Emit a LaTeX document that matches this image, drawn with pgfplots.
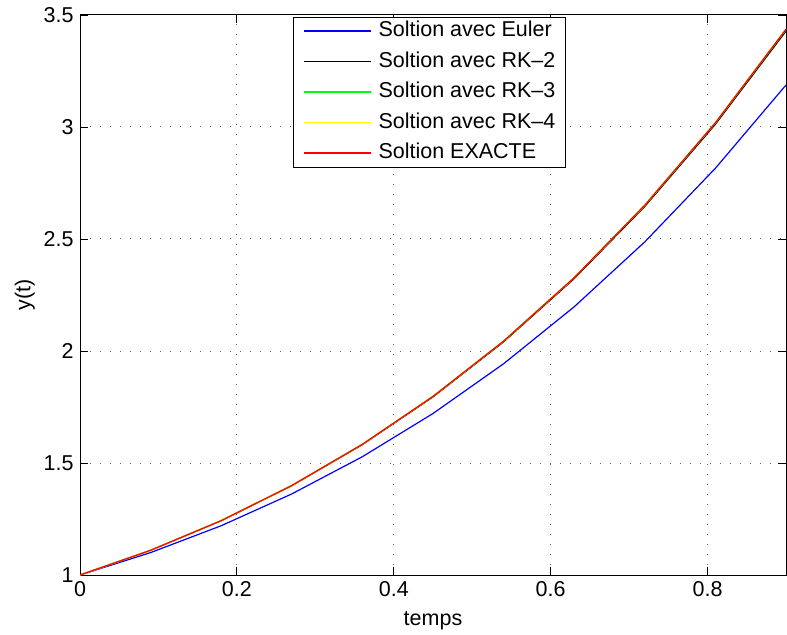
\documentclass[border=0pt]{standalone}
\usepackage{pgfplots}
\pgfplotsset{compat=1.18}
\usepackage{fontspec}
\setmainfont{Liberation Sans}
\definecolor{mblue}{rgb}{0,0,1}
\definecolor{mgreen}{rgb}{0,1,0}
\definecolor{myellow}{rgb}{1,1,0}
\definecolor{mred}{rgb}{1,0,0}
\begin{document}
\begin{tikzpicture}[font=\fontsize{21.5}{25}\selectfont]
\begin{axis}[
  scale only axis, width=706pt, height=560pt,
  xmin=0, xmax=0.9, ymin=1, ymax=3.5,
  xtick={0,0.2,0.4,0.6,0.8}, ytick={1,1.5,2,2.5,3,3.5},
  /pgf/number format/assume math mode=true,
  tick align=inside, major tick length=8pt,
  tick style={black, line width=0.8pt},
  axis line style={line width=1pt},
  xtick pos=both, ytick pos=both,
  grid=major, grid style={black!60, line width=1pt, dash pattern=on 1pt off 9pt},
  xticklabel style={yshift=-3pt},
  yticklabel style={xshift=-3pt},
  xlabel={temps}, ylabel={y(t)},
  xlabel style={at={(axis description cs:0.5,-0.082)}, anchor=center},
  ylabel style={at={(axis description cs:-0.078,0.5)}, anchor=center},
  legend cell align=left,
  legend image code/.code={\draw[#1, line width=1.3pt] (0pt,0pt) -- (67pt,0pt);},
  legend style={at={(rel axis cs:0.3017,0.9964)}, anchor=north west,
    inner xsep=10pt, inner ysep=4pt, row sep=11pt, column sep=7pt,
    nodes={inner sep=0pt, text height=15.5pt, text depth=4pt}},
]
\addplot[color=mblue, line width=1.2pt] coordinates {(0,1) (0.09,1.1) (0.18,1.22) (0.27,1.362) (0.36,1.5282) (0.45,1.72102) (0.54,1.943122) (0.63,2.197434) (0.72,2.487178) (0.81,2.815895) (0.9,3.187485)};
\addlegendentry{Soltion avec Euler}
\addplot[color=black, line width=1.2pt] coordinates {(0,1) (0.09,1.11) (0.18,1.24205) (0.27,1.398465) (0.36,1.581804) (0.45,1.794894) (0.54,2.040858) (0.63,2.323148) (0.72,2.645579) (0.81,3.012365) (0.9,3.428163)};
\addlegendentry{Soltion avec RK--2}
\addplot[color=mgreen, line width=1.2pt] coordinates {(0,1) (0.09,1.110333) (0.18,1.242787) (0.27,1.399687) (0.36,1.583605) (0.45,1.797381) (0.54,2.044156) (0.63,2.3274) (0.72,2.650949) (0.81,3.019041) (0.9,3.436361)};
\addlegendentry{Soltion avec RK--3}
\addplot[color=myellow, line width=1.2pt] coordinates {(0,1) (0.09,1.110342) (0.18,1.242805) (0.27,1.399717) (0.36,1.583648) (0.45,1.797441) (0.54,2.044236) (0.63,2.327503) (0.72,2.651079) (0.81,3.019203) (0.9,3.43656)};
\addlegendentry{Soltion avec RK--4}
\addplot[color=mred, line width=1.2pt] coordinates {(0,1) (0.09,1.110342) (0.18,1.242806) (0.27,1.399718) (0.36,1.583649) (0.45,1.797443) (0.54,2.044238) (0.63,2.327505) (0.72,2.651082) (0.81,3.019206) (0.9,3.436564)};
\addlegendentry{Soltion EXACTE}
\end{axis}
\pgfresetboundingbox
\useasboundingbox ([xshift=-80pt,yshift=-59pt]current axis.south west) rectangle ([xshift=1pt,yshift=15pt]current axis.north east);
\end{tikzpicture}
\end{document}
